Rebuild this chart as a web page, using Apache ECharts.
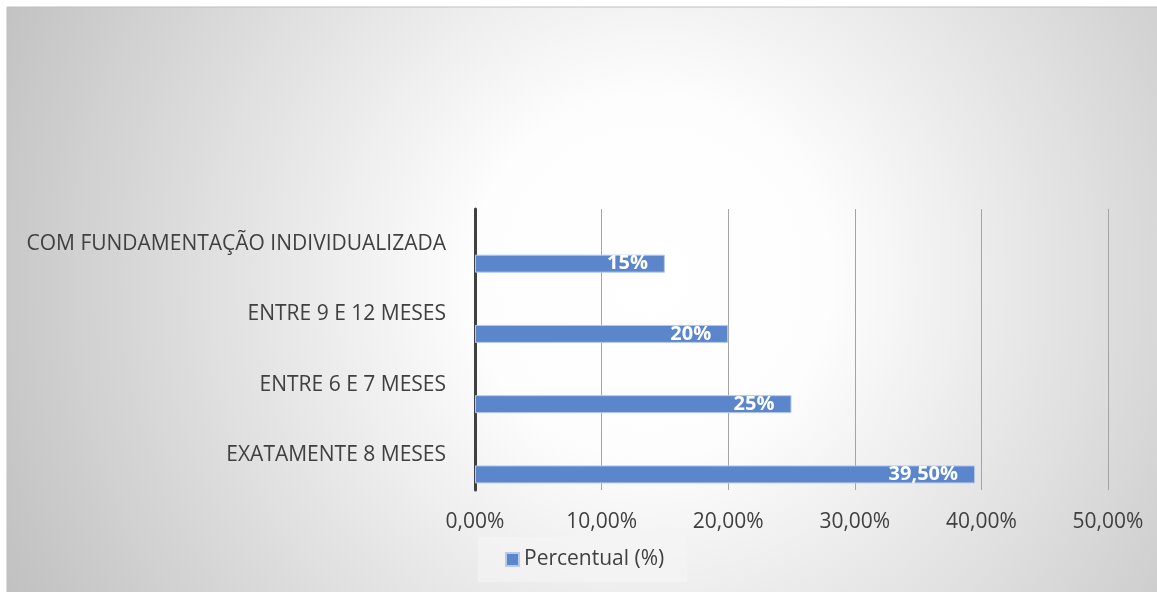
<!DOCTYPE html>
<html>
<head>
<meta charset="utf-8">
<script src="https://cdn.jsdelivr.net/npm/echarts@6/dist/echarts.min.js"></script>
<style>
html,body{margin:0;padding:0;background:#fff;}
#c{width:1157px;height:592px;}
</style>
</head>
<body>
<div id="c"></div>
<script>
const categories = ['COM FUNDAMENTAÇÃO INDIVIDUALIZADA', 'ENTRE 9 E 12 MESES', 'ENTRE 6 E 7 MESES', 'EXATAMENTE 8 MESES'];
const seriesName = 'Percentual (%)';
const values = [15, 20, 25, 39.5];
const xTicks = { min: 0, max: 50, interval: 10 };

function fmtAxis(v) { return v.toFixed(2).replace('.', ',') + '%'; }
function fmtLabel(v) { return (Number.isInteger(v) ? String(v) : v.toFixed(2).replace('.', ',')) + '%'; }

const FONT = 'Open Sans';
const chart = echarts.init(document.getElementById('c'), null, { renderer: 'canvas' });
chart.setOption({
  backgroundColor: '#ffffff',
  animation: false,
  graphic: [{
    type: 'rect', z: -100, silent: true,
    shape: { x: 7, y: 7, width: 1170, height: 600 },
    style: {
      fill: { type: 'radial', x: 0.55, y: 0.45, r: 1.2,
        colorStops: [
          { offset: 0, color: '#ffffff' },
          { offset: 0.25, color: '#fdfdfd' },
          { offset: 1, color: '#c0c0c0' }
        ] },
      stroke: '#bfbfbf', lineWidth: 1
    }
  }],
  grid: { left: 475, right: 49, top: 209, height: 281, containLabel: false },
  legend: {
    data: [seriesName],
    left: 478, top: 537,
    backgroundColor: 'rgba(245,245,245,0.6)',
    padding: [12, 23, 12, 27],
    itemWidth: 13, itemHeight: 13, itemGap: 10,
    icon: 'rect',
    textStyle: { fontFamily: FONT, fontSize: 21, color: '#404040' }
  },
  xAxis: {
    type: 'value', min: xTicks.min, max: xTicks.max, interval: xTicks.interval,
    axisLine: { show: false }, axisTick: { show: false },
    splitLine: { show: true, lineStyle: { color: '#a4a4a4', width: 1 } },
    axisLabel: { formatter: fmtAxis, fontFamily: FONT, fontSize: 21, color: '#404040', margin: 22 }
  },
  yAxis: {
    type: 'category', data: categories, inverse: true,
    axisLine: { show: true, lineStyle: { color: '#404040', width: 3 } },
    axisTick: { show: false },
    axisLabel: { fontFamily: FONT, fontSize: 21, color: '#404040', margin: 29 }
  },
  series: [
    { name: '_blank', type: 'bar', data: categories.map(() => null), barWidth: 18, barGap: '117%' },
    {
      name: seriesName, type: 'bar', data: values, barWidth: 18, barGap: '117%',
      itemStyle: { color: '#5b86cc', borderColor: '#b8caea', borderWidth: 1 },
      label: {
        show: true, position: 'insideRight', distance: 17,
        formatter: p => fmtLabel(p.value),
        fontFamily: FONT, fontSize: 20, fontWeight: 'bold', color: '#ffffff'
      }
    }
  ]
});
</script>
</body>
</html>
